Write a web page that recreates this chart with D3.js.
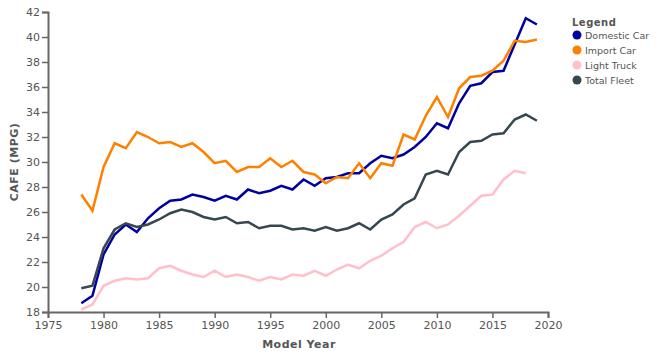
<!DOCTYPE html>
<html><head><meta charset="utf-8">
<script src="https://cdn.jsdelivr.net/npm/d3@7"></script>
<style>body{margin:0;background:#fff;font-family:"DejaVu Sans",sans-serif;}</style>
</head><body>
<svg id="c" width="662" height="356"></svg>
<script>
const years = d3.range(1978, 2020);
const domesticCar = [18.7,19.3,22.6,24.2,25.0,24.4,25.5,26.3,26.9,27.0,27.4,27.2,26.9,27.3,27.0,27.8,27.5,27.7,28.1,27.8,28.6,28.1,28.7,28.8,29.1,29.1,29.9,30.5,30.3,30.6,31.2,32.0,33.1,32.7,34.7,36.1,36.3,37.2,37.3,39.4,41.5,41.0];
const importCar = [27.4,26.1,29.6,31.5,31.1,32.4,32.0,31.5,31.6,31.2,31.5,30.8,29.9,30.1,29.2,29.6,29.6,30.3,29.6,30.1,29.2,29.0,28.3,28.8,28.7,29.9,28.7,29.9,29.7,32.2,31.8,33.7,35.2,33.6,35.9,36.8,36.9,37.3,38.1,39.7,39.6,39.8];
const lightTruck = [18.2,18.6,20.1,20.5,20.7,20.6,20.7,21.5,21.7,21.3,21.0,20.8,21.3,20.8,21.0,20.8,20.5,20.8,20.6,21.0,20.9,21.3,20.9,21.4,21.8,21.5,22.1,22.5,23.1,23.6,24.8,25.2,24.7,25.0,25.7,26.5,27.3,27.4,28.6,29.3,29.1];
const totalFleet = [19.9,20.1,23.1,24.6,25.1,24.8,25.0,25.4,25.9,26.2,26.0,25.6,25.4,25.6,25.1,25.2,24.7,24.9,24.9,24.6,24.7,24.5,24.8,24.5,24.7,25.1,24.6,25.4,25.8,26.6,27.1,29.0,29.3,29.0,30.8,31.6,31.7,32.2,32.3,33.4,33.8,33.3];
const seriesNames = ["Domestic Car","Import Car","Light Truck","Total Fleet"];
const seriesColors = ["#0000a0","#ff8000","#ffc0cb","#37474f"];
const xTicks = d3.range(1975, 2021, 5);
const yTicks = d3.range(18, 43, 2);

const seriesData = [domesticCar, importCar, lightTruck, totalFleet];
const svg = d3.select("#c");
const x = d3.scaleLinear().domain([1975, 2020]).range([48, 548]);
const y = d3.scaleLinear().domain([18, 42]).range([312, 12]);

const axColor = "#666";
const txtColor = "#555";

const gx = svg.append("g").attr("transform", "translate(0,312)")
  .call(d3.axisBottom(x).tickValues(xTicks).tickFormat(d3.format("d")).tickSize(6).tickSizeOuter(6));
const gy = svg.append("g").attr("transform", "translate(48,0)")
  .call(d3.axisLeft(y).tickValues(yTicks).tickSize(6).tickSizeOuter(6));
[gx, gy].forEach(g => {
  g.select(".domain").attr("stroke", axColor).attr("stroke-width", 2);
  g.selectAll(".tick line").attr("stroke", axColor).attr("stroke-width", 1.5);
  g.selectAll(".tick text").attr("fill", txtColor).style("font-size", "11px").style("font-family", "DejaVu Sans, sans-serif");
});
gy.selectAll(".tick text").attr("x", -8);
gx.selectAll(".tick text").attr("y", 9);

svg.append("text").attr("x", 299).attr("y", 348).attr("text-anchor", "middle")
  .attr("fill", txtColor).style("font-size", "11px").style("font-weight", "bold").style("letter-spacing", "0.5px").text("Model Year");
svg.append("text").attr("transform", "translate(18,162) rotate(-90)").attr("text-anchor", "middle")
  .attr("fill", txtColor).style("font-size", "11px").style("font-weight", "bold").style("letter-spacing", "0.5px").text("CAFE (MPG)");

const line = d3.line().x((d, i) => x(years[i])).y(d => y(d));
seriesData.forEach((s, k) => {
  svg.append("path").datum(s).attr("d", line).attr("fill", "none")
    .attr("stroke", seriesColors[k]).attr("stroke-width", 2.5).attr("stroke-linejoin", "miter");
});

const lg = svg.append("g");
lg.append("text").attr("x", 572).attr("y", 26).attr("fill", txtColor)
  .style("font-size", "10px").style("font-weight", "bold").style("letter-spacing", "0.5px").text("Legend");
seriesNames.forEach((n, k) => {
  const yy = 35 + k * 15;
  lg.append("circle").attr("cx", 577).attr("cy", yy).attr("r", 4.5).attr("fill", seriesColors[k]);
  lg.append("text").attr("x", 585).attr("y", yy + 3.5).attr("fill", txtColor)
    .style("font-size", "9.5px").text(n);
});
</script>
</body></html>
